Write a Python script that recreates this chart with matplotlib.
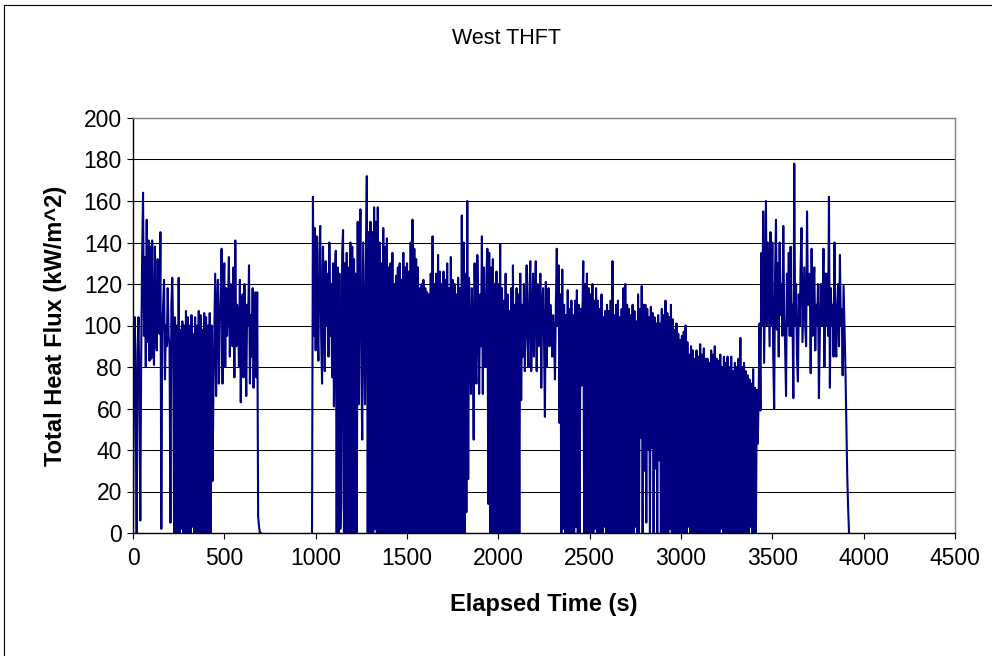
import numpy as np
import matplotlib
matplotlib.use('Agg')
import matplotlib.pyplot as plt
from matplotlib.patches import Rectangle

nan = np.nan

# logger sampling grid (s)
time_step = 5
time_end = 3920

# total heat flux (kW/m^2), one row = 100 s (20 samples)
flux = [
    0, 75, 104, 60, 0, 88, 104, 70, 6, 88, 133, 164, 95, 133, 80, 151, 92, 141, 83, 138,         # 0
    84, 141, 95, 81, 138, 100, 88, 132, 110, 96, 145, 2, 96, 110, 122, 74, 100, 90, 118, 95,     # 100
    90, 5, 110, 123, 95, 0, 104, 0, 100, 0, 123, 0, 98, 2, 102, 0, 100, 0, 107, 0,               # 200
    104, 0, 100, 0, 105, 3, 96, 0, 104, 0, 100, 0, 107, 0, 105, 0, 98, 0, 106, 0,                # 300
    104, 0, 100, 0, 106, 0, 100, 25, 66, 95, 125, 66, 110, 122, 72, 100, 115, 137, 72, 120,      # 400
    130, 80, 118, 95, 110, 133, 85, 120, 100, 90, 128, 75, 141, 90, 110, 105, 80, 122, 63, 110,  # 500
    115, 75, 120, 95, 66, 110, 100, 129, 72, 105, 85, 118, 70, 105, 116, 75, 116, 8, 3, 0,       # 600
    0, nan, nan, nan, nan, nan, nan, nan, nan, nan,
    nan, nan, nan, nan, nan, nan, nan, nan, nan, nan,                                            # 700
    nan, nan, nan, nan, nan, nan, nan, nan, nan, nan,
    nan, nan, nan, nan, nan, nan, nan, nan, nan, nan,                                            # 800
    nan, nan, nan, nan, nan, nan, nan, nan, nan, nan,
    nan, nan, nan, nan, nan, nan, 0, 162, 95, 147,                                               # 900
    88, 143, 100, 83, 135, 148, 95, 72, 138, 110, 78, 131, 100, 125, 85, 140, 95, 120, 75, 130,  # 1000
    61, 120, 136, 0, 128, 0, 125, 2, 12, 135, 146, 0, 130, 0, 135, 0, 128, 0, 140, 0,            # 1100
    138, 0, 132, 0, 125, 0, 150, 62, 120, 156, 80, 45, 140, 100, 62, 130, 172, 0, 145, 0,        # 1200
    150, 0, 145, 0, 157, 2, 150, 0, 157, 0, 140, 0, 130, 0, 147, 0, 138, 0, 142, 0,              # 1300
    128, 0, 130, 0, 135, 0, 120, 0, 124, 0, 128, 0, 130, 0, 122, 0, 135, 0, 128, 0,              # 1400
    130, 0, 126, 0, 140, 0, 151, 0, 137, 0, 132, 0, 128, 0, 118, 0, 120, 0, 122, 0,              # 1500
    118, 0, 116, 0, 115, 0, 125, 0, 143, 0, 120, 0, 125, 0, 134, 0, 126, 0, 120, 0,              # 1600
    126, 0, 122, 0, 130, 0, 118, 0, 133, 0, 122, 0, 120, 0, 115, 0, 123, 0, 118, 0,              # 1700
    153, 0, 140, 0, 125, 10, 160, 26, 123, 95, 67, 118, 100, 45, 130, 85, 72, 134, 110, 67,      # 1800
    115, 90, 143, 67, 128, 100, 80, 125, 137, 14, 135, 0, 128, 0, 132, 0, 120, 0, 126, 0,        # 1900
    120, 0, 139, 0, 118, 0, 112, 0, 125, 0, 115, 0, 107, 0, 118, 0, 129, 0, 110, 0,              # 2000
    118, 0, 115, 0, 125, 64, 110, 85, 120, 78, 100, 129, 95, 80, 115, 131, 78, 100, 125, 85,     # 2100
    112, 131, 78, 120, 90, 100, 125, 70, 110, 118, 95, 56, 121, 80, 105, 118, 90, 110, 100, 85,  # 2200
    105, 95, 74, 110, 137, 100, 129, 53, 115, 0, 127, 2, 110, 0, 105, 0, 117, 0, 108, 0,         # 2300
    112, 0, 105, 0, 112, 3, 117, 0, 110, 0, 108, 71, 105, 131, 0, 120, 0, 125, 0, 118,           # 2400
    0, 115, 0, 120, 0, 112, 2, 118, 0, 112, 0, 108, 0, 115, 0, 104, 3, 107, 0, 110,              # 2500
    0, 107, 0, 112, 0, 131, 0, 105, 0, 110, 0, 112, 0, 104, 0, 108, 0, 118, 0, 120,              # 2600
    0, 110, 0, 108, 0, 105, 0, 110, 0, 107, 3, 102, 0, 115, 0, 108, 46, 119, 0, 110,             # 2700
    30, 110, 5, 108, 40, 104, 0, 109, 41, 106, 0, 104, 31, 101, 0, 105, 35, 101, 0, 108,         # 2800
    0, 105, 0, 112, 0, 106, 0, 104, 2, 110, 0, 103, 0, 98, 0, 101, 0, 96, 0, 93,                 # 2900
    0, 95, 0, 97, 0, 100, 0, 92, 3, 86, 0, 90, 0, 88, 0, 84, 0, 88, 0, 85,                       # 3000
    0, 91, 0, 86, 0, 89, 0, 84, 0, 84, 0, 82, 0, 88, 0, 86, 0, 90, 0, 84,                        # 3100
    0, 83, 0, 86, 2, 80, 0, 85, 0, 82, 0, 85, 0, 80, 0, 85, 0, 78, 0, 82,                        # 3200
    0, 80, 0, 84, 0, 94, 0, 80, 0, 82, 0, 78, 0, 76, 0, 74, 3, 72, 0, 79,                        # 3300
    0, 70, 0, 69, 43, 65, 101, 59, 135, 100, 155, 82, 120, 160, 100, 140, 115, 90, 145, 100,     # 3400
    140, 85, 60, 125, 151, 98, 130, 85, 140, 105, 120, 95, 148, 105, 90, 66, 125, 100, 135, 95,  # 3500
    138, 95, 110, 65, 178, 100, 120, 85, 73, 115, 100, 130, 147, 92, 110, 128, 100, 90, 155, 110,  # 3600
    110, 125, 77, 137, 95, 120, 128, 88, 110, 100, 120, 65, 95, 120, 100, 110, 137, 80, 125, 100,  # 3700
    125, 95, 162, 70, 118, 100, 110, 85, 140, 95, 85, 110, 120, 90, 134, 100, 108, 76, 119, 100,   # 3800
    80, 55, 28, 12, 0,                                                                             # 3900
]

x_ticks = [0, 500, 1000, 1500, 2000, 2500, 3000, 3500, 4000, 4500]
y_ticks = [0, 20, 40, 60, 80, 100, 120, 140, 160, 180, 200]

plt.rcParams['font.family'] = ['Liberation Sans', 'DejaVu Sans']

time = np.arange(0, time_end + time_step, time_step)

fig = plt.figure(figsize=(9.92, 6.56), dpi=100)
fig.patch.set_facecolor('white')

# chart area frame (runs off the right and bottom edges in the source)
fig.patches.append(Rectangle((4 / 992, -0.05), 1.2, 1 - 5 / 656 + 0.05,
                             transform=fig.transFigure, fill=False,
                             edgecolor='black', linewidth=0.8))

ax = fig.add_axes([133 / 992, 123 / 656, 822 / 992, 415 / 656])
ax.plot(time, flux, color='#000080', linewidth=1.5)

ax.set_xlim(0, 4500)
ax.set_ylim(0, 200)
ax.set_xticks(x_ticks)
ax.set_yticks(y_ticks)
ax.yaxis.grid(True, color='black', linewidth=0.75)
ax.set_axisbelow(True)
ax.tick_params(direction='out', length=4, width=0.8, labelsize=16.5,
               colors='black')
ax.tick_params(axis='y', pad=4)
ax.tick_params(axis='x', pad=6)

for side in ('top', 'right'):
    ax.spines[side].set_color('#808080')
for side in ('left', 'bottom'):
    ax.spines[side].set_color('black')
for s in ax.spines.values():
    s.set_linewidth(1.0)

ax.set_xlabel('Elapsed Time (s)', fontsize=17, fontweight='bold', labelpad=17)
ax.set_ylabel('Total Heat Flux (kW/m^2)', fontsize=17, fontweight='bold',
              labelpad=12)
fig.text(507 / 992, 1 - 38 / 656, 'West THFT', ha='center', va='center',
         fontsize=15.5)

plt.savefig('out.png', dpi=100, facecolor=fig.get_facecolor())
